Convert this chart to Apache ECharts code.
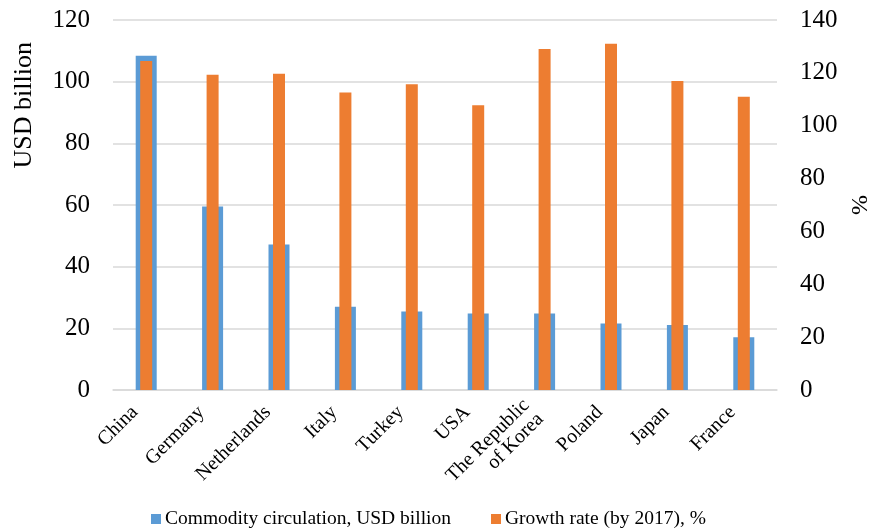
<!DOCTYPE html>
<html>
<head>
<meta charset="utf-8">
<script src="https://cdn.jsdelivr.net/npm/echarts@6/dist/echarts.min.js"></script>
<style>
  html, body { margin: 0; padding: 0; background: #fff; }
  #chart { width: 869px; height: 529px; }
</style>
</head>
<body>
<div id="chart"></div>
<script>
// Top trading partners: commodity circulation and growth rate
const countries = ['China', 'Germany', 'Netherlands', 'Italy', 'Turkey', 'USA',
  'The Republic\nof Korea', 'Poland', 'Japan', 'France'];
const circulation = [108.4, 59.5, 47.2, 27.0, 25.5, 24.8, 24.8, 21.6, 21.1, 17.1];
const growthRate = [124.5, 119.3, 119.7, 112.6, 115.7, 107.7, 129.0, 131.0, 116.9, 111.0];
const leftTicks = { min: 0, max: 120, interval: 20 };
const rightTicks = { min: 0, max: 140, interval: 20 };

const serif = '"Liberation Serif", "Times New Roman", serif';
const gridColor = '#d9d9d9';

const chart = echarts.init(document.getElementById('chart'), null, { renderer: 'canvas' });

chart.setOption({
  backgroundColor: '#ffffff',
  animation: false,
  textStyle: { fontFamily: serif },
  grid: {
    left: 113, right: 92, top: 20, bottom: 139,
    containLabel: false,
    outerBoundsMode: 'none'
  },
  legend: {
    left: 146,
    top: 504,
    itemWidth: 10,
    itemHeight: 10,
    itemGap: 40,
    icon: 'rect',
    textStyle: { fontFamily: serif, fontSize: 19.5, color: '#000', padding: [0, 0, 0, -1] },
    data: ['Commodity circulation, USD billion', 'Growth rate (by 2017), %']
  },
  xAxis: [
    {
      type: 'category',
      data: countries,
      boundaryGap: true,
      axisLine: { lineStyle: { color: gridColor, width: 1.5 } },
      axisTick: { show: false },
      axisLabel: {
        interval: 0,
        rotate: 45,
        margin: 8,
        padding: [0, 16, 0, 0],
        fontFamily: serif,
        fontSize: 20,
        lineHeight: 20,
        color: '#000'
      }
    },
    {
      // second category axis so the growth bars sit centred on each country
      type: 'category',
      data: countries,
      boundaryGap: true,
      show: false
    }
  ],
  yAxis: [
    {
      type: 'value',
      min: leftTicks.min,
      max: leftTicks.max,
      interval: leftTicks.interval,
      axisLine: { show: false },
      axisTick: { show: false },
      splitLine: { lineStyle: { color: gridColor, width: 1.5 } },
      axisLabel: { fontFamily: serif, fontSize: 25, color: '#000', margin: 23 }
    },
    {
      type: 'value',
      position: 'right',
      min: rightTicks.min,
      max: rightTicks.max,
      interval: rightTicks.interval,
      axisLine: { show: false },
      axisTick: { show: false },
      splitLine: { show: false },
      axisLabel: { fontFamily: serif, fontSize: 25, color: '#000', margin: 23 },
      name: '%',
      nameLocation: 'middle',
      nameRotate: 90,
      nameGap: 66,
      nameTextStyle: { fontFamily: serif, fontSize: 24, color: '#000' }
    }
  ],
  graphic: [
    {
      type: 'text',
      left: 11,
      top: 42,
      rotation: Math.PI / 2,
      style: {
        text: 'USD billion',
        font: '26px ' + serif,
        fill: '#000'
      }
    }
  ],
  series: [
    {
      name: 'Commodity circulation, USD billion',
      type: 'bar',
      xAxisIndex: 0,
      yAxisIndex: 0,
      barWidth: 21,
      itemStyle: { color: '#5B9BD5' },
      data: circulation,
      z: 2
    },
    {
      name: 'Growth rate (by 2017), %',
      type: 'bar',
      xAxisIndex: 1,
      yAxisIndex: 1,
      barWidth: 12,
      itemStyle: { color: '#ED7D31' },
      data: growthRate,
      z: 3
    }
  ]
});
</script>
</body>
</html>
